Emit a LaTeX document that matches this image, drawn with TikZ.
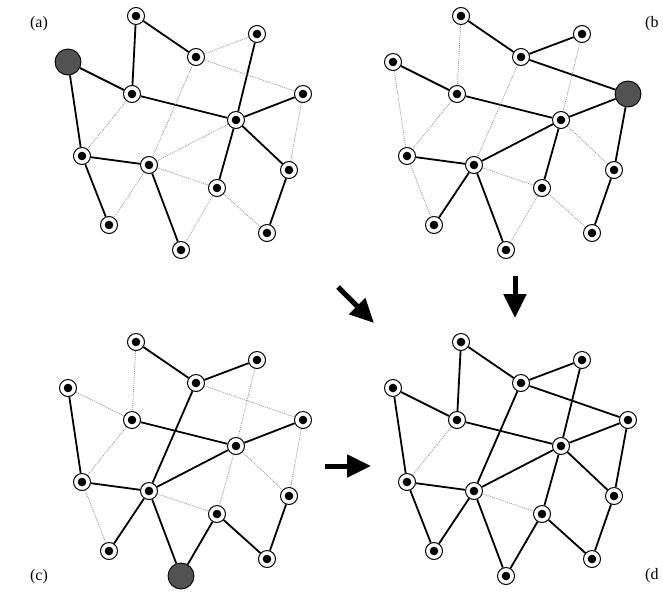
\documentclass[tikz,border=0pt]{standalone}
\usepackage{fontspec}
\setmainfont{Liberation Serif}
\usetikzlibrary{arrows.meta}
\begin{document}
\begin{tikzpicture}[x=1pt,y=-1pt,
  vtx/.style={circle,draw,line width=1pt,fill=white,minimum size=17pt,inner sep=0pt,
    path picture={\fill[black] (path picture bounding box.center) circle[radius=4.3pt];}},
  root/.style={circle,draw,line width=0.9pt,fill=black!68,minimum size=26pt,inner sep=0pt,path picture={}},
  tree/.style={line width=1.8pt},
  spare/.style={black!45,line width=0.7pt,dash pattern=on 1pt off 1pt},
  bigarrow/.style={line width=5pt,-{Triangle[length=24pt,width=22pt]}},
  lbl/.style={font=\fontsize{16}{18}\selectfont,inner sep=0pt},
  is aL/.style={root}, is bD/.style={root}, is cM/.style={root}]
\useasboundingbox (0,0) rectangle (663,592);
\newcommand\vtxpanel[3]{%
  \begin{scope}[shift={(#2,#3)}]
    \foreach \n/\x/\y in {A/136/16,B/257/34,C/196/57,L/68/62,D/303/94,E/132/94,
      F/236/120,G/82/156,H/149/165,I/289/170,J/217/188,K/109/225,M/181/250,N/267/233}
      {\node[vtx,is #1\n/.try] (#1\n) at (\x,\y) {};}
  \end{scope}}
\vtxpanel{a}{0}{0}
\vtxpanel{b}{325}{0}
\vtxpanel{c}{0}{326}
\vtxpanel{d}{325}{326}
% panel (a)
\foreach \u/\v in {A/C,A/E,L/E,L/G,E/F,B/F,D/F,F/I,F/J,G/H,G/K,H/M,I/N}
  \draw[tree] (a\u) -- (a\v);
\foreach \u/\v in {C/B,C/D,C/H,E/G,F/H,H/J,H/K,J/M,J/N,D/I}
  \draw[spare] (a\u) -- (a\v);
% panel (b)
\foreach \u/\v in {A/C,C/B,C/D,L/E,E/F,F/D,F/H,G/H,H/K,H/M,D/I,I/N,F/J}
  \draw[tree] (b\u) -- (b\v);
\foreach \u/\v in {A/E,L/G,E/G,C/H,B/F,F/I,H/J,J/M,J/N,G/K}
  \draw[spare] (b\u) -- (b\v);
% panel (c)
\foreach \u/\v in {A/C,C/B,L/G,C/H,E/F,F/D,F/H,G/H,H/K,H/M,J/M,J/N,I/N}
  \draw[tree] (c\u) -- (c\v);
\foreach \u/\v in {A/E,L/E,E/G,C/D,B/F,F/I,D/I,F/J,H/J,G/K}
  \draw[spare] (c\u) -- (c\v);
% panel (d)
\foreach \u/\v in {A/E,A/C,C/B,C/D,C/H,B/F,L/E,L/G,E/F,F/D,F/H,F/I,F/J,D/I,G/H,G/K,H/K,H/M,J/M,J/N,I/N}
  \draw[tree] (d\u) -- (d\v);
\foreach \u/\v in {E/G,H/J}
  \draw[spare] (d\u) -- (d\v);
% arrows
\coordinate (s1) at (338,287); \coordinate (t1) at (374,323);
\coordinate (s2) at (515,276); \coordinate (t2) at (515,318);
\coordinate (s3) at (325,466); \coordinate (t3) at (371,466);
\draw[bigarrow] (s1) -- (t1);
\draw[bigarrow] (s2) -- (t2);
\draw[bigarrow] (s3) -- (t3);
% labels
\node[lbl] (la) at (39,24) {(a)};
\node[lbl,anchor=west] (lb) at (645,24) {(b};
\node[lbl] (lc) at (39,577) {(c)};
\node[lbl,anchor=west] (ld) at (645,576) {(d};
\end{tikzpicture}
\end{document}
